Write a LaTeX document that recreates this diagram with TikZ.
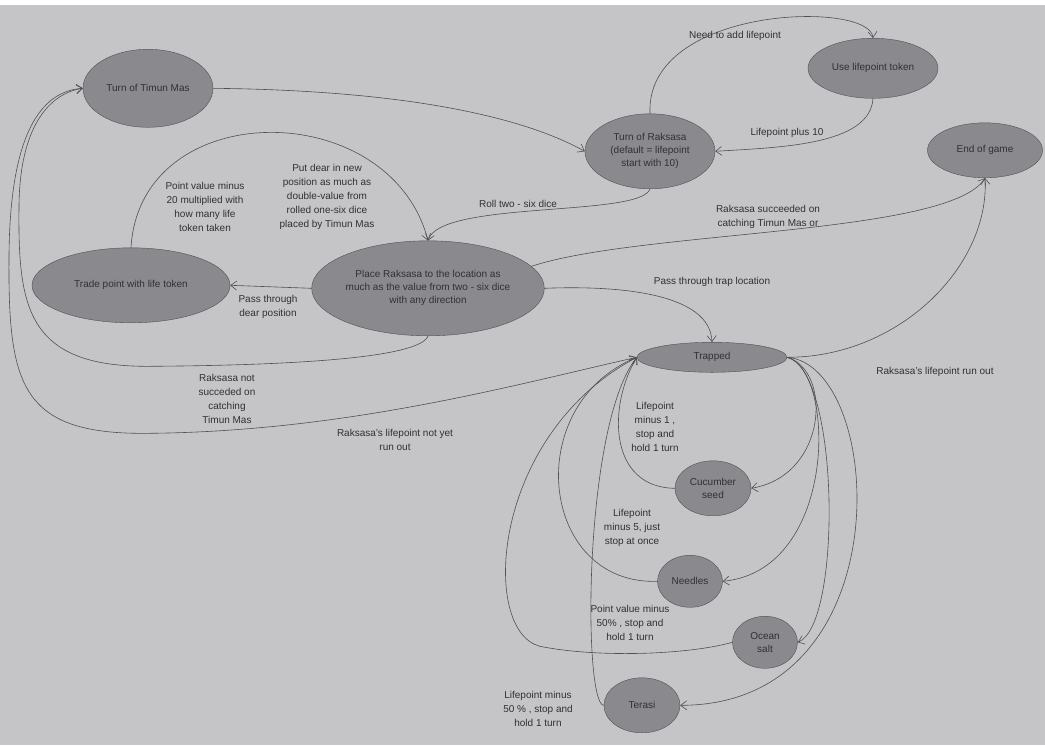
\documentclass[tikz,border=0pt]{standalone}
\usepackage{fontspec}
\setmainfont{Liberation Sans}
\usetikzlibrary{shapes.geometric,arrows.meta}
\definecolor{paper}{RGB}{197,196,199}
\definecolor{nodec}{RGB}{138,137,141}
\definecolor{edgec}{RGB}{80,80,84}
\definecolor{txtc}{RGB}{48,48,54}
\begin{document}
\begin{tikzpicture}[x=1pt,y=-1pt,>={Straight Barb[length=6pt,width=9pt]},line cap=round,
 st/.style={ellipse,draw=edgec,fill=nodec,inner sep=0pt,text=txtc,align=center,font=\fontsize{10}{13}\selectfont},
 lbl/.style={text=txtc,align=center,inner sep=1pt,font=\fontsize{10}{14}\selectfont},
 tr/.style={->,draw=edgec,semithick}]
\fill[paper] (0,0) rectangle (1045,740);
\node[st,minimum width=130,minimum height=78] (ttm) at (148,83) {Turn of Timun Mas};
\node[st,minimum width=130,minimum height=75] (rak) at (650,146) {Turn of Raksasa\\(default = lifepoint\\start with 10)};
\node[st,minimum width=130,minimum height=60] (use) at (873,63) {Use lifepoint token};
\node[st,minimum width=115,minimum height=55] (end) at (985,145) {End of game};
\node[st,minimum width=220,minimum height=95] (place) at (428,283) {Place Raksasa to the location as\\much as the value from two - six dice\\with any direction};
\node[st,minimum width=198,minimum height=75] (trade) at (131,280) {Trade point with life token};
\node[st,minimum width=150,minimum height=30] (trap) at (712,352) {Trapped};
\node[st,minimum width=76,minimum height=55] (cuc) at (713,483) {Cucumber\\seed};
\node[st,minimum width=65,minimum height=52] (ndl) at (690,576) {Needles};
\node[st,minimum width=65,minimum height=52] (salt) at (765,637) {Ocean\\salt};
\node[st,minimum width=76,minimum height=55] (ter) at (642,700) {Terasi};
\draw[tr] (ttm.east) .. controls (400,85) and (520,110) .. (rak.west);
\draw[tr] (rak.north) .. controls (645,0) and (870,-5) .. (use.north);
\draw[tr] (use.south) .. controls (870,140) and (780,142) .. (rak.east);
\draw[tr] (rak.south) .. controls (640,212) and (440,195) .. (place.north);
\draw[tr] (trade.north) .. controls (140,90) and (390,90) .. (place.north);
\draw[tr] (place.west) -- (trade.east);
\draw[tr] (place.east) .. controls (620,280) and (710,288) .. (trap.north);
\draw[tr] (place.12) .. controls (640,225) and (950,230) .. (end.south);
\draw[tr] (trap.east) .. controls (900,352) and (990,260) .. (end.south);
\draw[tr] (place.south) .. controls (420,352) and (300,360) .. (150,361) .. controls (25,362) and (18,300) .. (19,200) .. controls (20,120) and (50,88) .. (ttm.west);
\draw[tr] (trap.west) .. controls (520,378) and (350,426) .. (150,428) .. controls (20,430) and (8,380) .. (9,250) .. controls (10,130) and (40,86) .. (ttm.west);
\draw[tr] (trap.east) .. controls (832,365) and (828,470) .. (cuc.east);
\draw[tr] (cuc.west) .. controls (608,482) and (608,400) .. (trap.west);
\draw[tr] (trap.east) .. controls (836,365) and (838,565) .. (ndl.east);
\draw[tr] (ndl.west) .. controls (540,580) and (520,400) .. (trap.west);
\draw[tr] (trap.east) .. controls (840,365) and (842,620) .. (salt.east);
\draw[tr] (salt.west) .. controls (690,649) and (600,653) .. (540,641) .. controls (480,626) and (490,430) .. (trap.west);
\draw[tr] (trap.east) .. controls (885,360) and (905,700) .. (ter.east);
\draw[tr] (ter.west) .. controls (583,700) and (583,420) .. (trap.west);
\node[lbl] (l1) at (735,31) {Need to add lifepoint};
\node[lbl] (l2) at (787,128) {Lifepoint plus 10};
\node[lbl] (l3) at (518,199) {Roll two - six dice};
\node[lbl] (l4) at (205,202) {Point value minus\\20 multiplied with\\how many life\\token taken};
\node[lbl] (l5) at (327,192) {Put dear in new\\position as much as\\double-value from\\rolled one-six dice\\placed by Timun Mas};
\node[lbl] (l6) at (268,302) {Pass through\\dear position};
\node[lbl] (l7) at (768,212) {Raksasa succeeded on\\catching Timun Mas or};
\node[lbl] (l8) at (712,277) {Pass through trap location};
\node[lbl] (l9) at (935,367) {Raksasa's lifepoint run out};
\node[lbl] (l10) at (227,394) {Raksasa not\\succeded on\\catching\\Timun Mas};
\node[lbl] (l11) at (395,435) {Raksasa's lifepoint not yet\\run out};
\node[lbl] (l12) at (655,422) {Lifepoint\\minus 1 ,\\stop and\\hold 1 turn};
\node[lbl] (l13) at (632,523) {Lifepoint\\minus 5, just\\stop at once};
\node[lbl] (l14) at (630,618) {Point value minus\\50\% , stop and\\hold 1 turn};
\node[lbl] (l15) at (538,704) {Lifepoint minus\\50 \% , stop and\\hold 1 turn};
\end{tikzpicture}
\end{document}
